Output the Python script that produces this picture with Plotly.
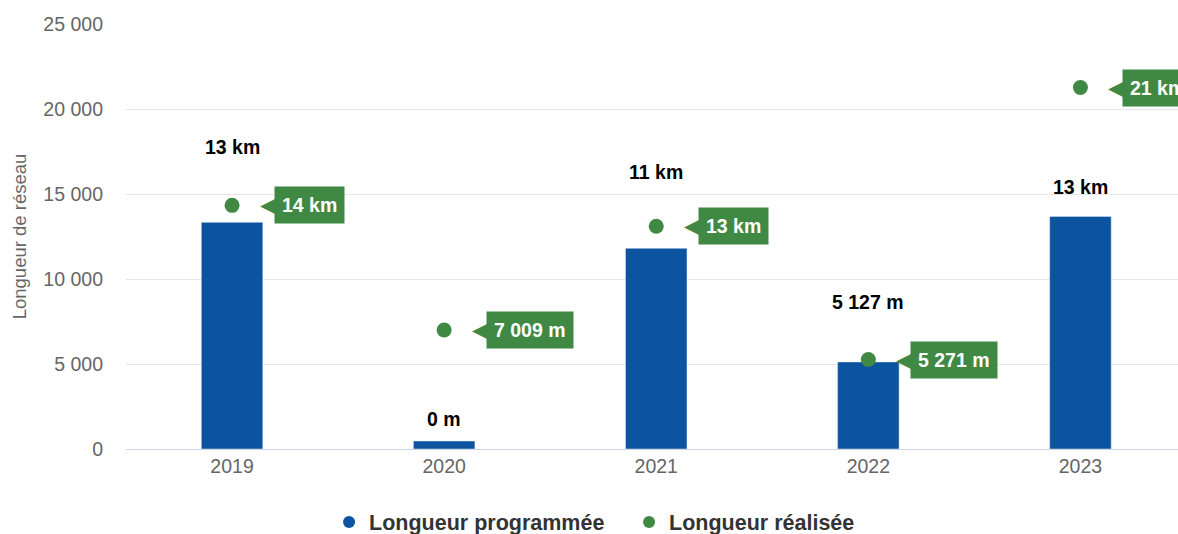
import plotly.graph_objects as go

# data
years = ["2019", "2020", "2021", "2022", "2023"]
programmee = [13350, 470, 11820, 5127, 13700]
programmee_labels = ["13 km", "0 m", "11 km", "5 127 m", "13 km"]
realisee = [14350, 7009, 13120, 5271, 21290]
realisee_labels = ["14 km", "7 009 m", "13 km", "5 271 m", "21 km"]
y_ticks = [0, 5000, 10000, 15000, 20000, 25000]

BLUE = "#0c53a0"
GREEN = "#3f8944"
FONT = "Liberation Sans, Arial, sans-serif"

# bar label offsets (px above bar top) as placed in the reference
label_shift = [75, 22, 76, 60, 29]

x = list(range(len(years)))

fig = go.Figure()

fig.add_trace(go.Bar(
    x=x, y=programmee, name="Longueur programmée",
    marker_color=BLUE, width=0.29, showlegend=False,
))
fig.add_trace(go.Scatter(
    x=x, y=realisee, mode="markers", name="Longueur réalisée",
    marker=dict(color=GREEN, size=15), showlegend=False,
))

# legend entries drawn as circles
for name, col in [("Longueur programmée", BLUE), ("Longueur réalisée", GREEN)]:
    fig.add_trace(go.Scatter(
        x=[None], y=[None], mode="markers", name=name,
        marker=dict(color=col, size=15),
    ))

annotations = []
for i in x:
    annotations.append(dict(
        x=i, y=programmee[i], text="<b>%s</b>" % programmee_labels[i],
        showarrow=False, yanchor="middle", yshift=label_shift[i],
        font=dict(family=FONT, size=19.5, color="#000000"),
    ))
    annotations.append(dict(
        x=i, y=realisee[i], text="<b>%s</b>" % realisee_labels[i],
        showarrow=False, xanchor="left", yanchor="middle", xshift=42,
        bgcolor=GREEN, borderpad=7,
        font=dict(family=FONT, size=19.5, color="#ffffff"),
    ))
    annotations.append(dict(
        x=i, y=realisee[i], text="◀",
        showarrow=False, xanchor="right", yanchor="middle", xshift=47,
        font=dict(family="DejaVu Sans", size=21, color=GREEN),
    ))

fig.update_layout(
    width=1178, height=534,
    margin=dict(l=126, r=0, t=24, b=85, autoexpand=False),
    plot_bgcolor="white", paper_bgcolor="white",
    separators=", ",
    font=dict(family=FONT, size=19, color="#666666"),
    annotations=annotations,
    legend=dict(
        orientation="h", xref="container", x=0.534, xanchor="center",
        y=-0.172, yanchor="middle", entrywidth=255,
        font=dict(family=FONT, size=21.5, color="#333333", weight="bold"),
        itemsizing="constant",
    ),
)

fig.update_xaxes(
    range=[-0.5, 4.46], tickvals=x, ticktext=years,
    showgrid=False, showline=True, linecolor="#ccd6eb", linewidth=1,
    ticks="", tickfont=dict(size=19.5, color="#666666"),
)
fig.update_yaxes(
    range=[0, 25030], tickvals=y_ticks, tickformat=",d",
    showgrid=True, gridcolor="#e6e6e6", zeroline=False,
    ticklabelstandoff=22, tickfont=dict(size=19.5, color="#666666"),
    title=dict(text="Longueur de réseau", standoff=11,
               font=dict(size=18.5, color="#666666")),
)

# drop the default page margin so the figure sits at the window's corner
fig.write_html("out.html", config={"displayModeBar": False},
               post_script="document.body.style.margin='0';")
